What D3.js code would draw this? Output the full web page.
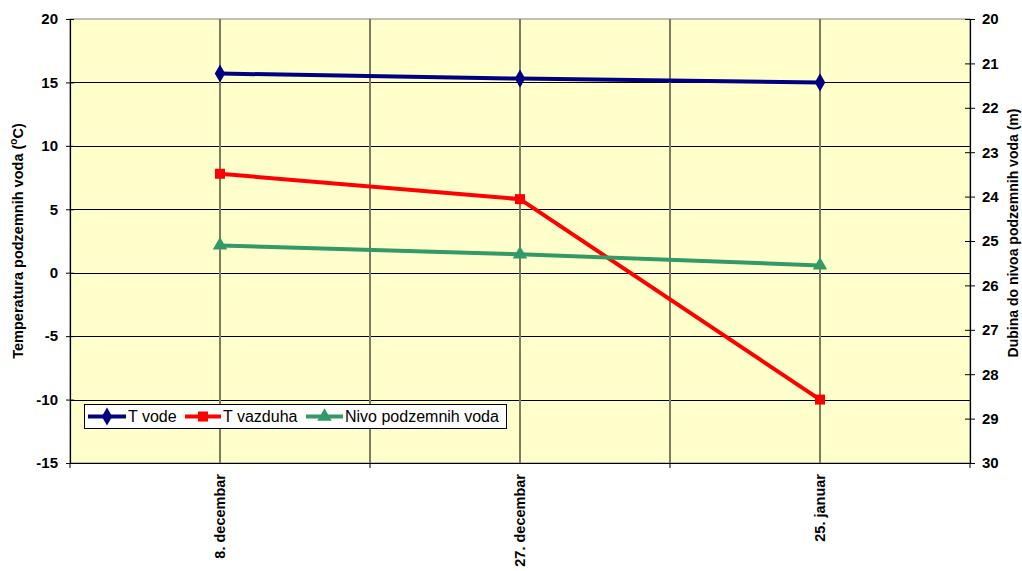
<!DOCTYPE html>
<html>
<head>
<meta charset="utf-8">
<script src="https://cdn.jsdelivr.net/npm/d3@7/dist/d3.min.js"></script>
<style>
  html, body { margin: 0; padding: 0; background: #ffffff; }
  svg { display: block; font-family: "Liberation Sans", Arial, sans-serif; }
</style>
</head>
<body>
<svg id="chart" width="1022" height="571"></svg>
<script>
const categories = ["8. decembar", "27. decembar", "25. januar"];
const tVode = [15.7, 15.3, 15.0];
const tVazduha = [7.8, 5.8, -10.0];
const nivo = [25.1, 25.3, 25.55];
const leftTicks = [-15, -10, -5, 0, 5, 10, 15, 20];
const rightTicks = [20, 21, 22, 23, 24, 25, 26, 27, 28, 29, 30];
const seriesNames = ["T vode", "T vazduha", "Nivo podzemnih voda"];

const svg = d3.select("#chart");
const L = 70, R = 970, T = 19, B = 463;

const x = d3.scaleBand().domain(categories).range([L, R]).padding(0);
const yL = d3.scaleLinear().domain([-15, 20]).range([B, T]);
const yR = d3.scaleLinear().domain([20, 30]).range([T, B]);
const cx = c => x(c) + x.bandwidth() / 2;

// plot background
svg.append("rect").attr("x", L).attr("y", T).attr("width", R - L).attr("height", B - T)
  .attr("fill", "#FFFFCC").attr("stroke", "#808080").attr("stroke-width", 1);

// horizontal gridlines
svg.append("g").selectAll("line").data(leftTicks.filter(d => d > -15 && d < 20)).join("line")
  .attr("x1", L).attr("x2", R)
  .attr("y1", d => Math.round(yL(d)) + 0.5).attr("y2", d => Math.round(yL(d)) + 0.5)
  .attr("stroke", "#000").attr("stroke-width", 1);

// vertical gridlines: at category centers and boundaries
const vGrid = [];
categories.forEach((c, i) => { vGrid.push(cx(c)); if (i > 0) vGrid.push(x(c)); });
svg.append("g").selectAll("line").data(vGrid).join("line")
  .attr("x1", d => d).attr("x2", d => d).attr("y1", T).attr("y2", B)
  .attr("stroke", "#7c7c5e").attr("stroke-width", 2);

// left axis
const axL = d3.axisLeft(yL).tickValues(leftTicks).tickFormat(d => String(d))
  .tickSize(4).tickSizeOuter(0).tickPadding(8);
const gL = svg.append("g").attr("transform", `translate(${L},0)`).call(axL);
gL.selectAll(".tick line").attr("x2", -4).attr("x1", 4);
// right axis
const axR = d3.axisRight(yR).tickValues(rightTicks).tickFormat(d => String(d))
  .tickSize(5).tickSizeOuter(0).tickPadding(7);
const gR = svg.append("g").attr("transform", `translate(${R},0)`).call(axR);
gR.selectAll(".tick line").attr("x1", -5).attr("x2", 5);
// bottom axis
const axB = d3.axisBottom(x).tickSize(0).tickSizeOuter(0).tickFormat("");
const gB = svg.append("g").attr("transform", `translate(0,${B})`).call(axB);
gB.selectAll(".tick").remove();
const boundaries = [L].concat(categories.slice(1).map(c => x(c))).concat([R]);
gB.selectAll("line.bt").data(boundaries).join("line").attr("class", "bt")
  .attr("x1", d => d).attr("x2", d => d).attr("y1", 0).attr("y2", 5).attr("stroke", "#000");

[gL, gR, gB].forEach(g => {
  g.selectAll("path.domain").attr("stroke", "#000").attr("stroke-width", 1.2);
  g.selectAll(".tick line").attr("stroke", "#000");
  g.selectAll(".tick text").attr("font-family", "Liberation Sans, Arial, sans-serif")
    .attr("font-size", 15).attr("font-weight", "bold").attr("fill", "#000");
});

// x labels rotated
svg.append("g").selectAll("text").data(categories).join("text")
  .attr("transform", d => `translate(${cx(d)},${B + 11}) rotate(-90)`)
  .attr("text-anchor", "end").attr("dy", "0.35em")
  .attr("font-size", 14.5).attr("font-weight", "bold").text(d => d);

// axis titles
const lt = svg.append("text").attr("transform", `translate(23,241) rotate(-90)`)
  .attr("text-anchor", "middle").attr("font-size", 14.5).attr("font-weight", "bold");
lt.append("tspan").text("Temperatura podzemnih voda (");
lt.append("tspan").attr("dy", -6).attr("font-size", 10).text("o");
lt.append("tspan").attr("dy", 6).text("C)");
svg.append("text").attr("transform", `translate(1018,233) rotate(-90)`)
  .attr("text-anchor", "middle").attr("font-size", 14).attr("font-weight", "bold")
  .text("Dubina do nivoa podzemnih voda (m)");

// series
const colors = ["#000080", "#FF0000", "#339966"];
const series = [
  { vals: tVode, y: yL, color: colors[0], shape: d3.symbolDiamond, size: 95 },
  { vals: tVazduha, y: yL, color: colors[1], shape: d3.symbolSquare, size: 100 },
  { vals: nivo, y: yR, color: colors[2], shape: d3.symbolTriangle, size: 90 }
];
series.forEach(s => {
  const pts = categories.map((c, i) => [cx(c), s.y(s.vals[i])]);
  svg.append("path").datum(pts).attr("d", d3.line())
    .attr("fill", "none").attr("stroke", s.color).attr("stroke-width", 4);
  svg.append("g").selectAll("path").data(pts).join("path")
    .attr("transform", d => `translate(${d[0]},${d[1]})`)
    .attr("d", d3.symbol().type(s.shape).size(s.size)).attr("fill", s.color);
});

// legend
const lg = svg.append("g");
lg.append("rect").attr("x", 84.5).attr("y", 404.5).attr("width", 422).attr("height", 24)
  .attr("fill", "#fff").attr("stroke", "#000").attr("stroke-width", 1);
const legX = [[88, 126, 128], [185, 221, 223], [306, 343, 345]];
series.forEach((s, i) => {
  const [a, b, t] = legX[i];
  const my = 416.5;
  lg.append("line").attr("x1", a).attr("x2", b).attr("y1", my).attr("y2", my)
    .attr("stroke", s.color).attr("stroke-width", 4);
  lg.append("path").attr("transform", `translate(${(a + b) / 2},${my})`)
    .attr("d", d3.symbol().type(s.shape).size(s.size)).attr("fill", s.color);
  lg.append("text").attr("x", t).attr("y", my + 5.5).attr("font-size", 16).text(seriesNames[i]);
});
</script>
</body>
</html>
